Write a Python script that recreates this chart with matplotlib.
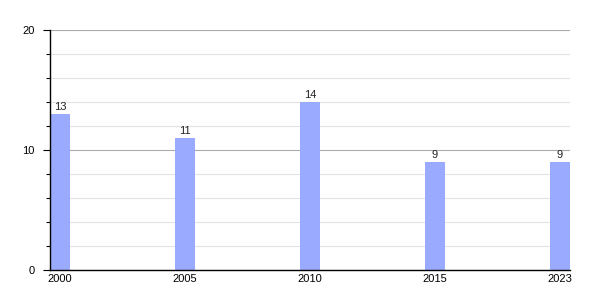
import matplotlib
matplotlib.use("Agg")
import matplotlib.pyplot as plt
from matplotlib.ticker import MultipleLocator

years = ["2000", "2005", "2010", "2015", "2023"]
values = [13, 11, 14, 9, 9]

plt.rcParams['font.family'] = ['Liberation Sans', 'DejaVu Sans']

fig = plt.figure(figsize=(6, 3), dpi=100)
ax = fig.add_axes([50/600, 30/300, 520/600, 240/300])

x = list(range(len(years)))
bars = ax.bar(x, values, width=0.16, color='#9aabff', zorder=2)
for xi, v in zip(x, values):
    ax.text(xi, v + 0.2, str(v), ha='center', va='bottom', fontsize=8, color='#222222')

ax.set_xlim(-0.08, len(years) - 1 + 0.08)
ax.set_ylim(0, 20)
ax.set_xticks(x)
ax.set_xticklabels(years, fontsize=8)
ax.yaxis.set_major_locator(MultipleLocator(10))
ax.yaxis.set_minor_locator(MultipleLocator(2))
ax.tick_params(axis='y', which='major', length=5, width=0.8, labelsize=8, pad=6)
ax.tick_params(axis='y', which='minor', length=3, width=0.8)
ax.tick_params(axis='x', length=0, pad=3)

ax.grid(axis='y', which='major', color='#aaaaaa', linewidth=0.8, zorder=0)
ax.grid(axis='y', which='minor', color='#e2e2e2', linewidth=0.8, zorder=0)
ax.set_axisbelow(True)

for s in ['top', 'right']:
    ax.spines[s].set_visible(False)
ax.spines['left'].set_color('black')
ax.spines['bottom'].set_color('black')
ax.spines['left'].set_linewidth(1)
ax.spines['bottom'].set_linewidth(1)

fig.savefig('out.png', dpi=100)
